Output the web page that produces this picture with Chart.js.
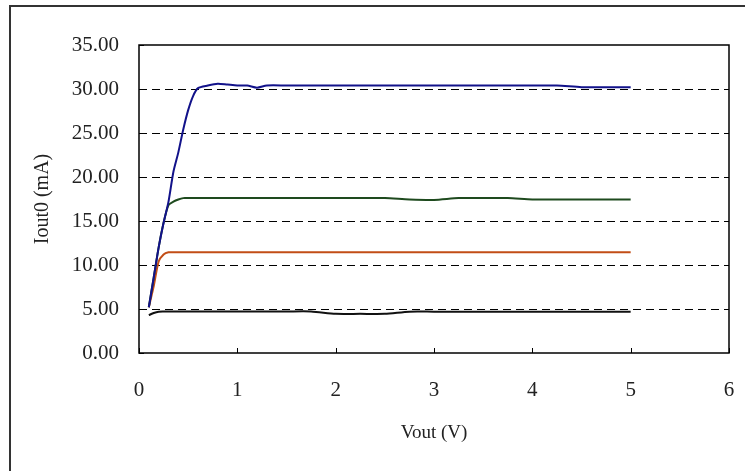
<!DOCTYPE html>
<html>
<head>
<meta charset="utf-8">
<script src="https://cdn.jsdelivr.net/npm/chart.js@4/dist/chart.umd.min.js"></script>
<style>
  html, body { margin: 0; padding: 0; background: #fff; }
  #wrap { width: 745px; height: 471px; position: relative; }
</style>
</head>
<body>
<div id="wrap"><canvas id="ivChart"></canvas></div>
<script>
// ====== data ======
const vout = [0.1, 0.15, 0.2, 0.25, 0.3, 0.35, 0.4, 0.45, 0.5, 0.55, 0.6, 0.7, 0.8, 0.9, 1.0, 1.1, 1.2, 1.3, 1.5, 1.75, 2.0, 2.25, 2.5, 2.75, 3.0, 3.25, 3.5, 3.75, 4.0, 4.25, 4.5, 4.75, 5.0];

const iout30 = [5.2, 8.6, 12.0, 14.8, 17.2, 20.6, 22.8, 25.4, 27.6, 29.2, 30.1, 30.4, 30.6, 30.5, 30.4, 30.4, 30.15, 30.4, 30.4, 30.4, 30.4, 30.4, 30.4, 30.4, 30.4, 30.4, 30.4, 30.4, 30.4, 30.4, 30.2, 30.2, 30.2];
const iout17 = [5.2, 8.6, 12.0, 14.8, 16.8, 17.2, 17.45, 17.6, 17.6, 17.6, 17.6, 17.6, 17.6, 17.6, 17.6, 17.6, 17.6, 17.6, 17.6, 17.6, 17.6, 17.6, 17.6, 17.45, 17.4, 17.6, 17.6, 17.6, 17.45, 17.45, 17.45, 17.45, 17.45];
const iout11 = [5.2, 7.6, 10.4, 11.2, 11.45, 11.45, 11.45, 11.45, 11.45, 11.45, 11.45, 11.45, 11.45, 11.45, 11.45, 11.45, 11.45, 11.45, 11.45, 11.45, 11.45, 11.45, 11.45, 11.45, 11.45, 11.45, 11.45, 11.45, 11.45, 11.45, 11.45, 11.45, 11.45];
const iout5 = [4.3, 4.55, 4.7, 4.72, 4.72, 4.72, 4.72, 4.72, 4.72, 4.72, 4.72, 4.72, 4.72, 4.72, 4.72, 4.72, 4.72, 4.72, 4.72, 4.72, 4.45, 4.45, 4.45, 4.7, 4.7, 4.7, 4.7, 4.7, 4.7, 4.7, 4.7, 4.7, 4.7];

const seriesColors = ["#12128a", "#1e4a1e", "#c24d16", "#111111"];
const xTicks = [0, 1, 2, 3, 4, 5, 6];
const yTicks = [0, 5, 10, 15, 20, 25, 30, 35];

const toPoints = (ys) => vout.map((x, i) => ({ x: x, y: ys[i] }));

// ====== frame, plot border and inward ticks ======
const framePlugin = {
    id: "frame",
    afterDraw(chart) {
        const { ctx, chartArea: a, scales } = chart;
        ctx.save();
        // outer border (runs off the right and bottom edge)
        ctx.strokeStyle = "#333";
        ctx.lineWidth = 2;
        ctx.beginPath();
        ctx.moveTo(10, 480);
        ctx.lineTo(10, 6);
        ctx.lineTo(760, 6);
        ctx.stroke();

        // plot box
        ctx.strokeStyle = "#000";
        ctx.lineWidth = 1.5;
        ctx.strokeRect(a.left, a.top, a.right - a.left, a.bottom - a.top);

        // small inward tick marks
        ctx.lineWidth = 1;
        ctx.beginPath();
        xTicks.forEach(v => {
            const px = Math.round(scales.x.getPixelForValue(v)) + 0.5;
            ctx.moveTo(px, a.bottom);
            ctx.lineTo(px, a.bottom - 5);
        });
        yTicks.forEach(v => {
            const py = Math.round(scales.y.getPixelForValue(v)) + 0.5;
            ctx.moveTo(a.left, py);
            ctx.lineTo(a.left + 5, py);
        });
        ctx.stroke();
        ctx.restore();
    }
};

const serif = "'Liberation Serif', 'DejaVu Serif', serif";

new Chart(document.getElementById("ivChart"), {
    type: "line",
    data: {
        datasets: [iout30, iout17, iout11, iout5].map((ys, i) => ({
            data: toPoints(ys),
            borderColor: seriesColors[i],
            borderWidth: 2,
            pointRadius: 0,
            tension: 0.25,
            fill: false
        }))
    },
    options: {
        responsive: true,
        maintainAspectRatio: false,
        animation: false,
        layout: { padding: { left: 0, right: 16, top: 45, bottom: 0 } },
        plugins: {
            legend: { display: false },
            tooltip: { enabled: false }
        },
        scales: {
            x: {
                type: "linear",
                min: 0,
                max: 6,
                afterBuildTicks: (s) => { s.ticks = xTicks.map(v => ({ value: v })); },
                afterFit: (s) => { s.height = 118; s.paddingLeft = 0; s.paddingRight = 0; },
                grid: { display: false, drawTicks: false },
                border: { display: false },
                ticks: {
                    padding: 25,
                    color: "#222",
                    font: { family: serif, size: 21 }
                },
                title: {
                    display: true,
                    text: "Vout (V)",
                    color: "#222",
                    font: { family: serif, size: 19 },
                    padding: { top: 0, bottom: 27 }
                }
            },
            y: {
                type: "linear",
                min: 0,
                max: 35,
                afterBuildTicks: (s) => { s.ticks = yTicks.map(v => ({ value: v })); },
                afterFit: (s) => { s.width = 139; s.paddingTop = 0; s.paddingBottom = 0; },
                grid: {
                    drawTicks: false,
                    color: (c) => (c.tick && (c.tick.value === 0 || c.tick.value === 35)) ? "rgba(0,0,0,0)" : "#000",
                    lineWidth: 1
                },
                border: { display: false, dash: [8, 5] },
                ticks: {
                    padding: 20,
                    color: "#222",
                    font: { family: serif, size: 21 },
                    callback: (v) => Number(v).toFixed(2)
                },
                title: {
                    display: true,
                    text: "Iout0 (mA)",
                    color: "#222",
                    font: { family: serif, size: 20 },
                    padding: { top: 31, bottom: 0 }
                }
            }
        }
    },
    plugins: [framePlugin]
});
</script>
</body>
</html>
